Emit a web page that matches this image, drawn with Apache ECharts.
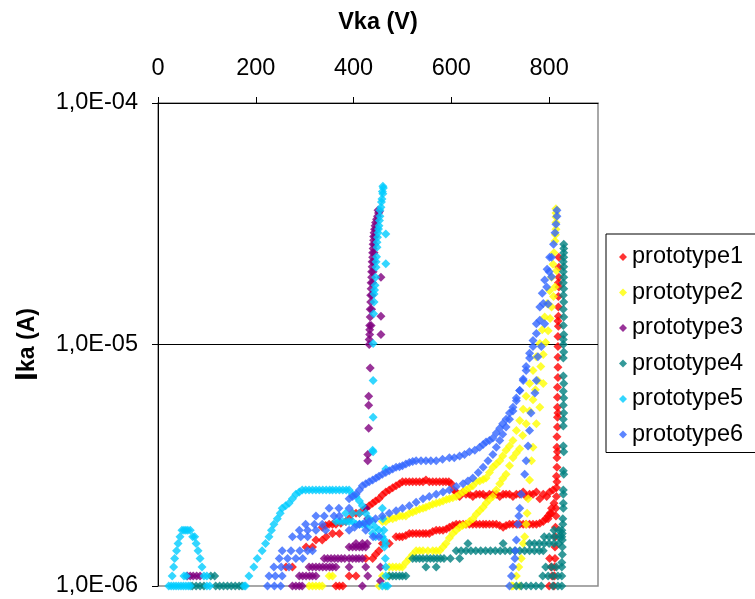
<!DOCTYPE html>
<html><head><meta charset="utf-8">
<script src="https://cdn.jsdelivr.net/npm/echarts@6/dist/echarts.min.js"></script>
<style>html,body{margin:0;padding:0;background:#fff}#c{width:755px;height:599px}</style>
</head><body><div id="c"></div>
<script>
// Data: [Vka (V), Ika (µA)]
const seriesNames = ['prototype1','prototype2','prototype3','prototype4','prototype5','prototype6'];
const seriesColors = ['#FF0000','#FFFF00','#800080','#008080','#00CCFF','#3366FF'];
const xTickValues = [0,200,400,600,800];

const prototype1 = [
 [336,1.75],[343,1.78],[350,1.8],[357,1.8],[364,1.8],[374,1.82],[384,1.85],[391,1.9],[398,2.0],[405,2.0],[412,2.0],[418,2.05],[425,2.1],[432,2.15],[439,2.2],[445,2.25],[452,2.3],[459,2.38],[466,2.45],[473,2.5],[480,2.55],[487,2.6],[494,2.65],[500,2.7],[507,2.7],[514,2.7],[521,2.7],[528,2.7],[535,2.7],[542,2.7],[548,2.75],[555,2.7],[562,2.7],[569,2.7],[576,2.7],[583,2.7],[589,2.7],[595,2.7],[600,2.65],
 [605,2.5],[610,2.45],[617,2.35],[624,2.45],[630,2.4],[637,2.4],[644,2.35],[651,2.4],[658,2.4],[665,2.4],[671,2.35],[678,2.4],[685,2.4],[692,2.4],[699,2.35],[706,2.4],[712,2.4],[719,2.4],[726,2.35],[733,2.4],[740,2.4],[747,2.45],[753,2.35],[760,2.4],[767,2.4],[774,2.45],[781,2.3],[788,2.4],[795,2.35],[801,2.45],[808,2.5],
 [487,1.6],[494,1.6],[500,1.6],[507,1.62],[514,1.65],[521,1.65],[528,1.65],[535,1.65],[542,1.65],[548,1.65],[555,1.65],[562,1.68],[569,1.7],[576,1.7],[583,1.7],[590,1.72],[596,1.75],[603,1.78],[610,1.8],[617,1.8],[624,1.8],[630,1.8],[637,1.8],[644,1.8],[651,1.8],[658,1.8],[665,1.8],[671,1.8],[678,1.8],[685,1.8],[692,1.8],[699,1.78],[706,1.75],[712,1.78],[719,1.8],[726,1.8],[733,1.8],[740,1.8],[747,1.8],[753,1.8],[760,1.8],[767,1.8],[774,1.8],[781,1.82],[788,1.85],[793,1.9],[798,1.95],[802,2.0],[805,2.1],[810,2.2],
 [262,1.2],[275,1.2],[303,1.45],[316,1.45],[323,1.55],[336,1.55],[344,1.6],[357,1.65],[371,1.65],[364,1.0],[371,1.0],[378,1.0],[391,1.1],[405,1.1],[425,1.3],[439,1.3],[445,1.35],[452,1.4],[459,1.5],[473,1.5],
 [810,1.0],[811,1.1],[811,1.2],[812,1.3],[812,1.45],[813,1.6],[813,1.75],[814,1.95],[814,2.1],[815,2.35],[815,2.55],[816,2.7],[815,2.85],[816,3.1],[816,3.4],[817,3.6],[816,3.75],[816,4.15],[817,4.55],[817,5.0],[818,5.2],[817,5.5],[817,6.05],[817,6.65],[818,7.3],[818,8.05],[818,8.85],[818,9.8],[818,10.8],[819,11.9],[818,12.5],[819,13.1],[819,14.3],[819,15.8],[820,17.3],[819,18.0],[820,19.0],[820,20.9],[820,23.0],
 [800,1.0],[806,1.1],[804,1.2],[801,1.3],[798,1.9],[805,2.0]
];
const prototype2 = [
 [309,1.0],[316,1.0],[323,1.0],[330,1.0],[336,1.0],[350,1.1],[357,1.1],[452,1.0],[466,1.0],[723,1.0],[740,1.0],
 [459,1.1],[471,1.1],[473,1.2],[480,1.2],[487,1.2],[494,1.2],[500,1.2],[507,1.25],[514,1.3],[521,1.35],[528,1.4],[535,1.4],[542,1.4],[552,1.4],[562,1.4],[569,1.4],[576,1.4],[583,1.45],[589,1.5],[596,1.58],[603,1.65],[610,1.7],[617,1.75],[623,1.78],[630,1.8],[637,1.85],[644,1.9],[651,1.98],[658,2.05],[665,2.12],[671,2.2],[678,2.28],[685,2.35],[692,2.5],[699,2.65],[705,2.78],[712,2.9],[719,3.15],[726,3.4],[733,3.55],[740,3.7],[746,4.2],[753,4.7],[760,5.3],[767,5.9],[772,6.5],[777,7.1],[783,8.1],[788,9.1],[793,10.2],[798,11.4],[802,12.8],[805,14.3],[809,15.8],[812,17.3],[815,20.2],
 [459,1.85],[466,1.85],[473,1.9],[480,1.9],[487,1.92],[494,1.95],[500,1.95],[507,1.95],[514,2.0],[521,2.02],[528,2.05],[535,2.08],[542,2.1],[548,2.12],[555,2.15],[562,2.18],[569,2.2],[576,2.22],[583,2.25],[590,2.28],[596,2.3],[603,2.32],[610,2.35],[617,2.4],[624,2.45],[630,2.5],[637,2.55],[644,2.6],[651,2.7],[658,2.72],[665,2.76],[671,2.8],[678,2.95],[685,3.1],[692,3.2],[699,3.3],[705,3.45],[712,3.65],[719,3.8],[726,4.0],[733,4.4],[740,4.85],[747,5.4],[753,6.1],[760,6.9],[767,7.8],[774,8.9],[781,10.1],[786,11.5],[791,13],[796,14.8],[801,16.7],[805,19],[808,21.5],[810,24],[812,26.8],[813,28.5],[814,30],[814,32],[814,33.7],[814,35],[814,36.5],
 [726,1.0],[733,1.1],[738,1.2],[743,1.3],[747,1.5],[750,1.6],[753,1.8],[755,2.0],[757,2.3],[760,2.75],[764,3.3],[767,3.75],[774,4.7],[781,5.5],[788,6.9]
];
const prototype3 = [
 [432,10],[432,10.5],[433,11],[433,11.5],[433,12],[434,13],[434,14],[435,15],[435,16],[436,17],[436,18],[437,19],[437,20],[438,21],[438,22],[439,23],[439,24],[440,25],[440,26],[441,27],[441,28],[442,29],[443,30],[444,31],[445,32],[447,33],[449,34],[451,35],[453,35.5],[450,36],
 [436,12],[437,14],[438,16],[439,18],[440,20],[441,22],[442,24],[443,26],[444,28],[446,30],
 [456,19],[456,13.1],[456,11],[434,8.0],[431,6.1],[431,5.6],[431,4.5],[429,3.5],[429,3.3],
 [60,1.1],[66,1.1],[72,1.1],[79,1.1],[86,1.1],
 [275,1.0],[282,1.0],[289,1.0],[295,1.0],[418,1.0],
 [289,1.1],[296,1.1],[303,1.1],[310,1.1],[316,1.1],[323,1.1],[429,1.1],[455,1.05],
 [309,1.2],[316,1.2],[323,1.2],[330,1.2],[337,1.2],[344,1.2],[351,1.2],[357,1.2],[364,1.2],[391,1.2],[425,1.2],[455,1.2],
 [340,1.3],[347,1.3],[354,1.3],[361,1.3],[368,1.3],[375,1.3],[382,1.3],[391,1.3],[398,1.3],[405,1.3],[411,1.3],[418,1.3],
 [391,1.45],[398,1.45],[405,1.45],[412,1.45],[418,1.45],[425,1.45],[405,1.5],[418,1.5],[428,1.5],[429,1.9],[425,2.1]
];
const prototype4 = [
 [70,1.0],[78,1.0],[86,1.0],[94,1.0],[118,1.0],[126,1.0],[134,1.0],[142,1.0],[150,1.0],[158,1.0],[166,1.0],[172,1.0],[108,1.1],[116,1.1],
 [473,1.1],[480,1.1],[487,1.1],[494,1.1],[500,1.1],[507,1.1],
 [521,1.3],[528,1.3],[535,1.3],[542,1.3],[550,1.3],[557,1.3],[564,1.3],[571,1.3],[578,1.3],[585,1.3],[598,1.3],[617,1.3],[548,1.2],[569,1.2],
 [610,1.4],[620,1.4],[630,1.4],[640,1.4],[650,1.4],[660,1.4],[670,1.4],[680,1.4],[690,1.4],[700,1.4],[710,1.4],[720,1.4],[730,1.4],[740,1.4],[750,1.4],[760,1.4],[770,1.4],[780,1.4],[788,1.4],
 [634,1.5],[706,1.5],[760,1.5],[770,1.5],[780,1.5],[790,1.5],[800,1.5],[810,1.5],[820,1.5],
 [790,1.6],[800,1.6],[810,1.6],[820,1.6],[826,1.6],[810,1.7],[820,1.7],[826,1.7],
 [793,1.2],[805,1.2],[815,1.2],[826,1.2],[787,1.1],[798,1.1],[808,1.1],[818,1.1],[826,1.1],
 [733,1.0],[743,1.0],[753,1.0],[763,1.0],[773,1.0],[784,1.0],[808,1.0],[818,1.0],[826,1.0],
 [830,26],[830,25],[830,24],[830,23],[829,22],[830,21],[829,20],[830,19],[829,18],[830,17],[829,16],[830,15],[829,14],[830,13],[829,12],[830,11],[829,10.5],[829,10],[830,9.3],[829,8.8],[829,7.4],[830,6.9],[829,6.4],[830,6.0],[829,5.6],[830,5.2],[829,4.9],[829,4.6],[829,3.8],[830,3.6],[829,3.0],[830,2.9],[829,2.5],[829,2.4],[829,2.2],[829,2.1],[828,1.9],[828,1.8],[827,1.65],[827,1.55],[827,1.45],[827,1.35],[826,1.25]
];
const prototype5 = [
 [22,1.0],[27,1.0],[32,1.0],[37,1.0],[42,1.0],[47,1.0],[52,1.0],[57,1.0],[62,1.0],[66,1.0],[100,1.0],[106,1.0],
 [29,1.1],[32,1.2],[34,1.3],[38,1.4],[41,1.5],[45,1.6],[49,1.7],[53,1.7],[57,1.7],[61,1.7],[66,1.7],[71,1.6],[75,1.6],[78,1.5],[82,1.4],[86,1.3],[90,1.2],[94,1.1],[100,1.1],[53,1.1],[58,1.1],
 [176,1.0],[179,1.0],[186,1.1],[196,1.2],[203,1.3],[213,1.4],[220,1.5],[227,1.6],[232,1.7],[237,1.8],[244,1.9],[250,2.0],[254,2.1],[261,2.15],[268,2.2],[275,2.3],[282,2.4],[289,2.45],[295,2.5],[302,2.5],[309,2.5],[316,2.5],[323,2.5],[330,2.5],[337,2.5],[344,2.5],[351,2.5],[357,2.5],[364,2.5],[371,2.5],[378,2.5],[385,2.5],[391,2.5],
 [398,2.4],[405,2.35],[412,2.25],[418,2.15],[425,2.0],[432,1.9],[439,1.85],[445,1.75],[452,1.7],[459,1.6],[466,1.5],
 [364,1.85],[371,1.85],[378,1.85],[385,1.85],[391,1.85],[398,1.85],[405,1.8],[412,1.8],[418,1.8],[384,2.0],[398,2.0],[412,2.0],
 [425,1.8],[432,1.75],[439,1.65],[445,1.6],
 [459,2.1],[460,1.9],[462,1.7],[463,1.55],[463,1.45],[465,1.3],[466,1.2],[466,1.1],[466,1.0],[459,1.0],[470,1.0],
 [439,3.65],[466,3.05],[440,3.6],[440,5.0],[440,7.1],[440,10.1],
 [441,13.4],[442,15.0],[442,16.2],[443,16.8],[444,17.6],[445,19.0],[446,20.9],[446,22],[447,23.1],[448,25.3],[448,26.5],[449,27.8],[450,29],[451,30.1],[452,31],[453,32.6],[454,34],[454,36],[456,37],[457,38.9],[458,40],[460,42.1],[459,43],[461,44.5],[460,45.2],
 [466,28.7],[466,21.6]
];
const prototype6 = [
 [224,1.0],[238,1.0],[251,1.0],[227,1.1],[240,1.1],[254,1.1],[237,1.2],[252,1.2],[268,1.2],
 [248,1.3],[265,1.3],[282,1.3],[296,1.3],[254,1.4],[272,1.4],[290,1.4],[306,1.4],[316,1.4],
 [275,1.6],[292,1.6],[306,1.6],[289,1.7],[306,1.7],[323,1.7],[343,1.7],[302,1.8],[320,1.8],[336,1.8],
 [323,1.95],[340,1.95],[360,1.95],[371,1.95],[350,2.1],[370,2.1],[391,2.1],
 [391,2.3],[398,2.35],[405,2.4],[412,2.5],[418,2.6],[425,2.65],[432,2.7],[439,2.75],[446,2.8],[452,2.85],[459,2.9],[466,2.95],[473,3.0],[480,3.05],[487,3.1],[494,3.12],[500,3.15],[507,3.2],[514,3.25],[521,3.28],[528,3.3],[538,3.3],[548,3.3],[558,3.3],[569,3.3],[582,3.35],[596,3.4],[606,3.4],[617,3.45],[627,3.5],[637,3.6],[648,3.65],[658,3.75],[665,3.85],[671,3.95],[678,4.0],[685,4.1],[692,4.3],[699,4.5],[705,4.7],[712,4.9],[719,5.2],[726,5.5],[733,6.0],[740,6.45],[747,7.1],[753,7.8],[760,8.8],[767,9.8],[774,11.1],[781,12.6],[788,14.8],[795,17.3],[800,20],[805,23.0],[809,26],[812,29],[814,31.5],[816,34],[816,36],
 [391,1.7],[402,1.75],[412,1.8],[422,1.82],[432,1.85],[445,1.9],[459,1.95],[473,2.0],[487,2.05],[500,2.1],[514,2.15],[528,2.22],[542,2.3],[555,2.35],[569,2.4],[583,2.45],[596,2.5],[610,2.58],[624,2.65],[634,2.72],[644,2.8],[655,2.95],[665,3.1],[675,3.3],[685,3.5],[692,3.75],[699,4.0],[705,4.25],[712,4.55],[719,4.9],[726,5.3],[733,5.85],[740,6.45],[747,7.2],[753,8.1],[760,9.2],[767,10.4],[774,12.2],[781,14.3],[786,16.3],[791,18.5],[796,20.5],[801,23],
 [719,1.0],[723,1.1],[726,1.2],[730,1.3],[731,1.4],[733,1.55],[736,1.8],[738,1.95],[740,2.1],[743,2.4],[750,2.9],[753,3.3],[757,3.8],[760,4.4],[763,5.2],[771,6.3],[774,7.1],[777,8.9],[784,9.8],[791,12.2],[798,14.7],[805,19.1],
 [425,1.7],[440,1.6],[452,1.6]
];
const allData = [prototype1, prototype2, prototype3, prototype4, prototype5, prototype6];

const chart = echarts.init(document.getElementById('c'), null, {renderer:'canvas'});
const FONT = 'Liberation Sans, Arial, sans-serif';
const option = {
  animation:false,
  backgroundColor:'#fff',
  grid:{left:158, top:103, width:440, height:483, show:true, borderColor:'#8c8c8c', borderWidth:1.5, backgroundColor:'#fff'},
  xAxis:{
    type:'value', position:'top', min:0, max:900,
    name:'Vka (V)', nameLocation:'middle', nameGap:68,
    nameTextStyle:{fontFamily:FONT, fontSize:23.5, fontWeight:'bold', color:'#000'},
    axisLine:{show:true, lineStyle:{color:'#000', width:1}},
    axisTick:{show:true, inside:false, length:6, customValues:xTickValues, lineStyle:{color:'#000'}},
    axisLabel:{customValues:xTickValues, margin:22, fontFamily:FONT, fontSize:23.5, color:'#000'},
    splitLine:{show:false}
  },
  yAxis:{
    type:'log', logBase:10, min:1e-6, max:1e-4,
    name:'{a|I}{b|ka (A)}', nameLocation:'middle', nameRotate:90, nameGap:114,
    nameTextStyle:{rich:{a:{fontFamily:FONT, fontSize:32, fontWeight:'bold', color:'#000'}, b:{fontFamily:FONT, fontSize:23, fontWeight:'bold', color:'#000'}}},
    axisLine:{show:true, lineStyle:{color:'#000', width:1}},
    axisTick:{show:true, inside:false, length:6, lineStyle:{color:'#000'}},
    minorTick:{show:false},
    axisLabel:{margin:20, fontFamily:FONT, fontSize:23.5, color:'#000',
      formatter:function(v){const e=Math.round(Math.log10(v)); return '1,0E-'+String(-e).padStart(2,'0');}},
    splitLine:{show:true, showMinLine:false, showMaxLine:false, lineStyle:{color:'#000', width:1}}
  },
  legend:{
    orient:'vertical', left:606, top:234, padding:[11,40,6,13], itemGap:11.5,
    itemWidth:8, itemHeight:8, itemTextGap:14, icon:'diamond',
    borderColor:'#000', borderWidth:1, backgroundColor:'#fff',
    textStyle:{fontFamily:FONT, fontSize:23.5, color:'#000'},
    data:seriesNames
  },
  series: seriesNames.map((n,i)=>({
    name:n, type:'scatter', symbol:'diamond', symbolSize:9, clip:false,
    itemStyle:{color:seriesColors[i]},
    data: allData[i].map(p=>[p[0], p[1]*1e-6])
  }))
};
chart.setOption(option);
</script></body></html>
